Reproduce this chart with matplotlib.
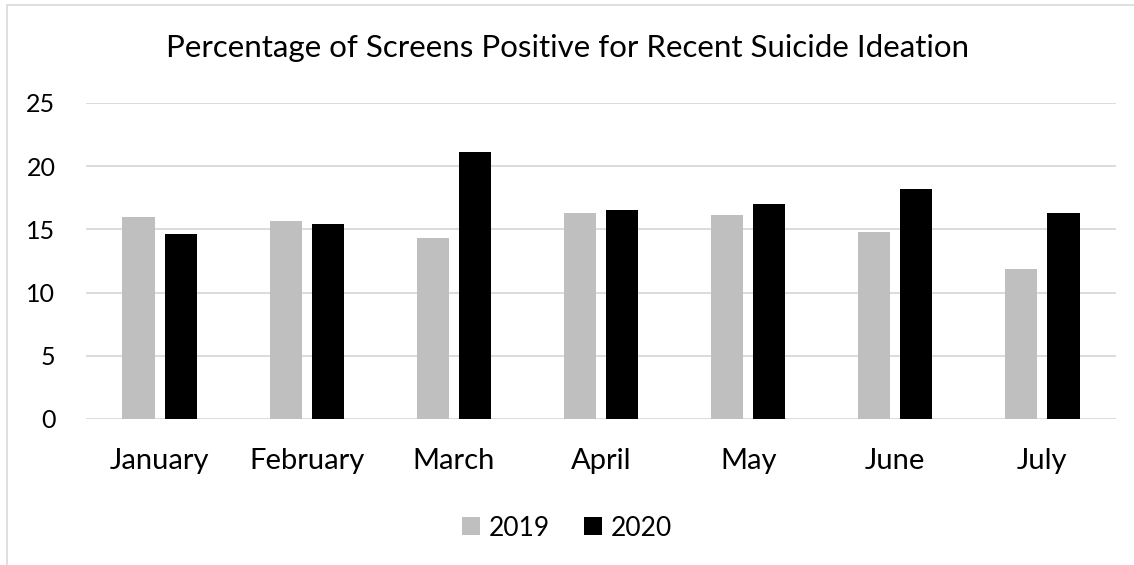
import matplotlib.pyplot as plt
import numpy as np
from matplotlib.patches import Rectangle

months = ['January', 'February', 'March', 'April', 'May', 'June', 'July']
vals_2019 = [16.0, 15.7, 14.3, 16.3, 16.1, 14.8, 11.9]
vals_2020 = [14.6, 15.4, 21.1, 16.5, 17.0, 18.2, 16.3]
yticks = [0, 5, 10, 15, 20, 25]

plt.rcParams['font.family'] = ['Lato', 'DejaVu Sans']

fig = plt.figure(figsize=(11.34, 5.65), dpi=100)
ax = fig.add_axes([86/1134, 1 - 419/565, (1116 - 86)/1134, (419 - 103)/565])

# light chart-area border like the Excel export
fig.patches.append(Rectangle((7/1134, -0.1), 1.2, 1 - 5/565 + 0.1, transform=fig.transFigure,
                             fill=False, edgecolor='#d9d9d9', lw=1.2))

x = np.arange(len(months))
w = 0.218
off = 0.143
ax.bar(x - off, vals_2019, w, color='#bfbfbf', label='2019', zorder=3)
ax.bar(x + off, vals_2020, w, color='#000000', label='2020', zorder=3)

ax.set_xlim(-0.5, len(months) - 0.5)
ax.set_ylim(0, 25)
ax.set_yticks(yticks)
ax.set_xticks(x)
ax.set_xticklabels(months)
ax.tick_params(axis='both', length=0, colors='#000000')
ax.tick_params(axis='y', pad=22, labelsize=18)
ax.tick_params(axis='x', pad=21, labelsize=21)
ax.grid(axis='y', color='#d9d9d9', lw=1.3, zorder=0)
for s in ax.spines.values():
    s.set_visible(False)

fig.text(0.5, 1 - 48/565, 'Percentage of Screens Positive for Recent Suicide Ideation',
         ha='center', va='center', fontsize=22.5)

fig.legend(loc='center', bbox_to_anchor=(0.5, 1 - 528/565), ncol=2, frameon=False,
           fontsize=19, handlelength=0.68, handleheight=0.68, handletextpad=0.34,
           columnspacing=1.3)

fig.savefig('out.png', dpi=100, facecolor='white')
